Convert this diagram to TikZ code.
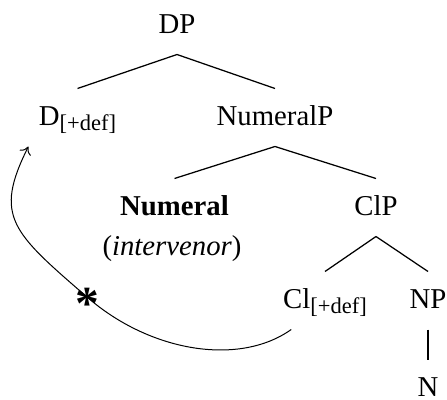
\documentclass[tikz,border=0pt]{standalone}
\usepackage{fontspec}
\setmainfont{Liberation Serif}
\usetikzlibrary{arrows.meta}
\newcommand\fsub[1]{\raisebox{-2.2pt}{\fontsize{9}{10}\selectfont #1}}
\begin{document}
\begin{tikzpicture}[x=0.4pt,y=-0.4pt,
  cat/.style={font=\fontsize{11.5}{13}\selectfont, anchor=base, text height=10pt, text depth=4pt, inner xsep=4pt, inner ysep=4.4pt},
  branch/.style={line width=0.5pt},
  move/.style={line width=0.4pt,-{To[length=3pt,width=5pt]}},
  starmark/.style={font=\fontsize{19}{19}\selectfont\bfseries, inner sep=0pt}]
\useasboundingbox (0,0) rectangle (447,400);
\node[cat] (DP) at (177,33) {DP};
\node[cat] (D) at (77.5,125) {D\fsub{[+def]}};
\node[cat] (NumP) at (275,125) {NumeralP};
\node[cat] (Num) at (174.5,215) {\textbf{Numeral}};
\node[cat] (Int) at (172,255) {(\textit{intervenor})};
\node[cat] (ClP) at (376,215) {ClP};
\node[cat] (Cl) at (325,308) {Cl\fsub{[+def]}};
\node[cat] (NP) at (428,308) {NP};
\node[cat] (N) at (428,396) {N};
\draw[branch] (DP.south) -- (D.north);
\draw[branch] (DP.south) -- (NumP.north);
\draw[branch] (NumP.south) -- (Num.north);
\draw[branch] (NumP.south) -- (ClP.north);
\draw[branch] (ClP.south) -- (Cl.north);
\draw[branch] (ClP.south) -- (NP.north);
\draw[branch] (NP.south) -- (N.north);
\coordinate (kink) at (87,297);
\draw[move] ([xshift=7.4pt]Cl.south west) .. controls +(-52,37) and +(63,55) .. (kink)
  .. controls +(-75,-65) and +(-35,70) .. (D.south west);
\node[starmark,yshift=-2.6pt] (star) at (kink) {*};
\end{tikzpicture}
\end{document}
